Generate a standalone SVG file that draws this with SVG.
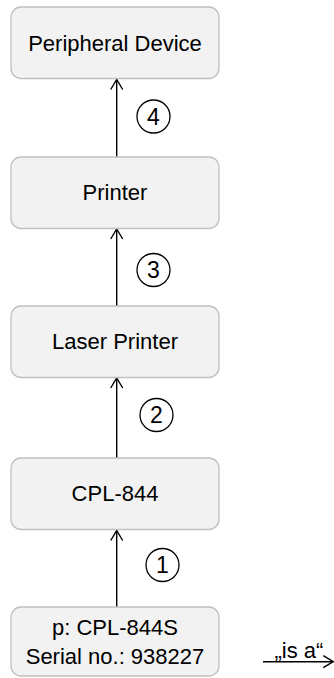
<svg xmlns="http://www.w3.org/2000/svg" width="334" height="678" viewBox="0 0 334 678">
<defs>
<style>
.box{fill:#f2f2f2;stroke:#c0c0c0;stroke-width:1.3}
.t{font-family:"Liberation Sans",Arial,sans-serif;font-size:22px;fill:#000;text-anchor:middle}
.c{fill:none;stroke:#000;stroke-width:1.3}
.n{font-family:"Liberation Sans",Arial,sans-serif;font-size:23px;fill:#000;text-anchor:middle}
.ln{stroke:#000;stroke-width:1.4;fill:none}
</style>
<marker id="ah" viewBox="0 0 12 14" refX="11" refY="7" markerWidth="12" markerHeight="14" markerUnits="userSpaceOnUse" orient="auto">
<path d="M1,1 L11,7 L1,13" fill="none" stroke="#000" stroke-width="1.4"/>
</marker>
</defs>
<rect width="334" height="678" fill="#fff"/>
<g id="connectors">
<line class="ln" x1="116.7" y1="157" x2="116.7" y2="79.5" marker-end="url(#ah)"/>
<line class="ln" x1="116.7" y1="306" x2="116.7" y2="229" marker-end="url(#ah)"/>
<line class="ln" x1="116.7" y1="458" x2="116.7" y2="378" marker-end="url(#ah)"/>
<line class="ln" x1="116.7" y1="607" x2="116.7" y2="530.5" marker-end="url(#ah)"/>
<circle class="c" cx="153.5" cy="116.5" r="16.5"/>
<text class="n" x="153.5" y="124.8">4</text>
<circle class="c" cx="153.5" cy="270" r="16.5"/>
<text class="n" x="153.5" y="278.3">3</text>
<circle class="c" cx="156.5" cy="415" r="16.5"/>
<text class="n" x="156.5" y="423.3">2</text>
<circle class="c" cx="162.5" cy="565" r="16.5"/>
<text class="n" x="162.5" y="573.3">1</text>
<line class="ln" x1="263" y1="661.7" x2="333.3" y2="661.7" marker-end="url(#ah)"/>
<text class="t" x="299" y="657.5">„is a“</text>
</g>
<g id="peripheral-device">
<rect class="box" x="11" y="7" width="208" height="71.5" rx="10"/>
<text class="t" x="115" y="50.5">Peripheral Device</text>
</g>
<g id="printer">
<rect class="box" x="11" y="157" width="208" height="71.5" rx="10"/>
<text class="t" x="115" y="199.8">Printer</text>
</g>
<g id="laser-printer">
<rect class="box" x="11" y="306" width="208" height="71.5" rx="10"/>
<text class="t" x="115" y="349">Laser Printer</text>
</g>
<g id="cpl-844">
<rect class="box" x="11" y="458" width="208" height="71.5" rx="10"/>
<text class="t" x="115" y="501">CPL-844</text>
</g>
<g id="instance">
<rect class="box" x="11" y="607" width="208" height="69" rx="10"/>
<text class="t" x="115" y="635">p: CPL-844S</text>
<text class="t" x="115" y="664.3">Serial no.: 938227</text>
</g>
</svg>
